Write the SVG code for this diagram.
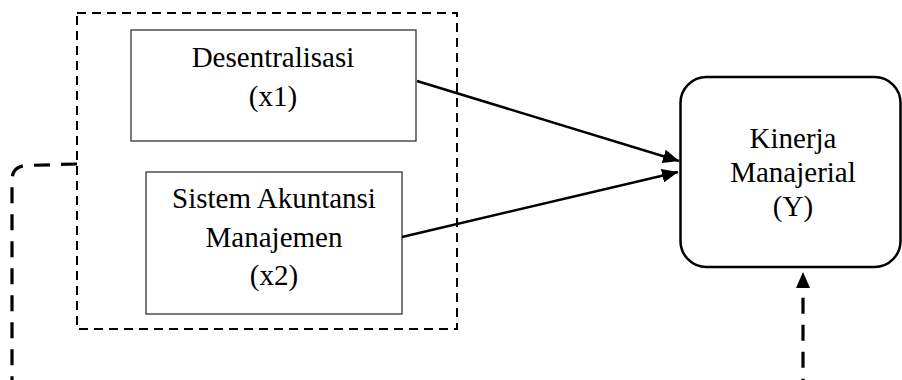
<svg xmlns="http://www.w3.org/2000/svg" width="902" height="380" viewBox="0 0 902 380">
<defs>
<style>
text{font-family:"Liberation Serif","Times New Roman",serif;font-size:29px;fill:#000;text-anchor:middle}
.box{fill:#fff;stroke:#333;stroke-width:1.3}
.grp{fill:none;stroke:#000;stroke-width:2;stroke-dasharray:9 6}
.conn{fill:none;stroke:#000;stroke-width:2.5}
.fb{fill:none;stroke:#000;stroke-width:3.2;stroke-dasharray:16 11}
</style>
<marker id="ah" markerUnits="userSpaceOnUse" markerWidth="18" markerHeight="14" refX="16" refY="7" orient="auto">
<path d="M0,0 L16,7 L0,14 Z" fill="#000"/>
</marker>
</defs>
<rect class="grp" x="77" y="13" width="380" height="316"/>
<g id="n1">
<rect class="box" x="131" y="30" width="285" height="111"/>
<text x="273" y="67">Desentralisasi</text>
<text x="273" y="106">(x1)</text>
</g>
<g id="n2">
<rect class="box" x="146" y="172" width="256" height="142"/>
<text x="274" y="208">Sistem Akuntansi</text>
<text x="274" y="247">Manajemen</text>
<text x="274" y="285">(x2)</text>
</g>
<g id="n3">
<rect x="680.5" y="77" width="220" height="190" rx="26" ry="26" fill="#fff" stroke="#000" stroke-width="2.5"/>
<text x="793" y="148">Kinerja</text>
<text x="793" y="182">Manajerial</text>
<text x="793" y="216">(Y)</text>
</g>
<g id="connectors">
<line class="conn" x1="417" y1="81" x2="679" y2="161" marker-end="url(#ah)"/>
<line class="conn" x1="402" y1="237" x2="678" y2="172" marker-end="url(#ah)"/>
<path class="fb" d="M77,164 L26,165.5 Q12,166.5 12,180 L12,381.5 L803,381.5 L803,288"/>
<path d="M803,272 L796,288 L810,288 Z" fill="#000"/>
</g>
</svg>
